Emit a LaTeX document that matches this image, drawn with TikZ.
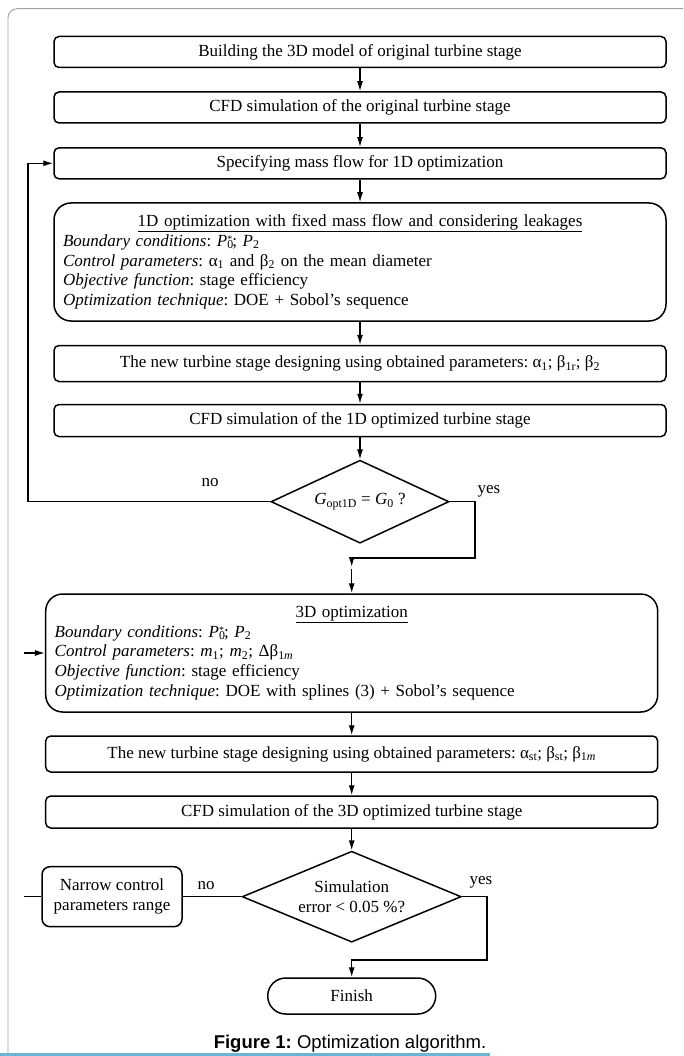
\documentclass[tikz,border=0pt]{standalone}
\usepackage{fontspec}
\setmainfont{Liberation Serif}
\newfontfamily\capfont{Liberation Sans}
\usetikzlibrary{arrows.meta,shapes.geometric}
\newcommand{\mysub}[1]{\textsubscript{#1}}
\newcommand{\Pzs}{\textit{P}\rlap{\textsubscript{0}}\raisebox{3.5pt}{\fontsize{10}{10}\selectfont *}}
\definecolor{framegray}{RGB}{160,160,160}
\definecolor{blueline}{RGB}{110,180,210}
\frenchspacing
\begin{document}
\begin{tikzpicture}[x=1pt,y=-1pt,
  txt/.style={font=\fontsize{17}{19.8}\selectfont},
  pbox/.style={txt, draw=black, line width=1.5pt, rounded corners=5pt, minimum width=612pt, inner sep=0pt},
  bigbox/.style={pbox, rounded corners=17pt, inner xsep=9pt, text width=594pt, align=left, minimum height=118pt},
  dec/.style={txt, draw=black, line width=1.5pt, diamond, inner sep=0pt, align=center},
  conn/.style={line width=1.3pt, -{Latex[length=10pt,width=6pt]}},
  plain/.style={line width=1.3pt},
  lbl/.style={txt}
]
\useasboundingbox (0,0) rectangle (683,1056);
% page frame
\draw[framegray, line width=0.9pt, rounded corners=9pt] (8,1056) -- (8,8.7) -- (683,8.7);
\fill[blueline] (0,1053) rectangle (490,1056);

% upper flow
\node[pbox, minimum height=31pt] (b1) at (360,52) {Building the 3D model of original turbine stage};
\node[pbox, minimum height=31pt] (b2) at (360,107.5) {CFD simulation of the original turbine stage};
\node[pbox, minimum height=31pt] (b3) at (360,163.3) {Specifying mass flow for 1D optimization};
\node[bigbox] (b4) at (360,262) {\makebox[\linewidth]{\underline{1D optimization with fixed mass flow and considering leakages}}\\
\textit{Boundary conditions}: \Pzs; \textit{P}\mysub{2}\\
\textit{Control parameters}: α\mysub{1} and β\mysub{2} on the mean diameter\\
\textit{Objective function}: stage efficiency\\
\textit{Optimization technique}: DOE + Sobol’s sequence};
\node[pbox, minimum height=36pt] (b5) at (360,363.5) {The new turbine stage designing using obtained parameters: α\mysub{1}; β\mysub{1r}; β\mysub{2}};
\node[pbox, minimum height=32pt] (b6) at (360,420.5) {CFD simulation of the 1D optimized turbine stage};
\node[dec, minimum width=178pt, minimum height=83pt, aspect=2.15] (d1) at (360,501.7) {\textit{G}\mysub{opt1D} = \textit{G}\mysub{0} ?};

% lower flow
\node[bigbox] (b7) at (351.7,653) {\makebox[\linewidth]{\underline{3D optimization}}\\
\textit{Boundary conditions}: \Pzs; \textit{P}\mysub{2}\\
\textit{Control parameters}: \textit{m}\mysub{1}; \textit{m}\mysub{2}; Δβ\mysub{1\textit{m}}\\
\textit{Objective function}: stage efficiency\\
\textit{Optimization technique}: DOE with splines (3) + Sobol’s sequence};
\node[pbox, minimum height=36pt] (b8) at (351.7,754) {The new turbine stage designing using obtained parameters: α\mysub{st}; β\mysub{st}; β\mysub{1\textit{m}}};
\node[pbox, minimum height=32pt] (b9) at (351.7,812) {CFD simulation of the 3D optimized turbine stage};
\node[dec, minimum width=219pt, minimum height=91pt, aspect=2.4] (d2) at (351.7,896.7) {Simulation\\error < 0.05 \%?};
\node[txt, draw=black, line width=1.5pt, rounded corners=8pt, minimum width=140pt, minimum height=60pt, inner sep=0pt, align=center] (nar) at (112,896.7) {Narrow control\\parameters range};
\node[txt, draw=black, line width=1.5pt, rounded corners=18pt, minimum width=168pt, minimum height=36pt, inner sep=0pt] (fin) at (351.7,996) {Finish};

% labels
\node[lbl] (no1) at (210,483) {no};
\node[lbl] (yes1) at (489,491) {yes};
\node[lbl] (no2) at (206,886) {no};
\node[lbl] (yes2) at (481,882) {yes};
\node[font=\capfont\fontsize{18.5}{21}\selectfont] (cap) at (350,1044) {\textbf{Figure 1:} Optimization algorithm.};

% coordinates
\coordinate (lpA) at (28,501.7);
\coordinate (lpB) at (28,163.3);
\coordinate (y1a) at (475,501.7);
\coordinate (y1b) at (475,558);
\coordinate (y1c) at (351.7,558);
\coordinate (y1d) at (351.7,567);
\coordinate (y1e) at (351.7,569);
\coordinate (stubA) at (24,896.7);
\coordinate (stubB) at (24,653);
\coordinate (y2a) at (487,896.7);
\coordinate (y2b) at (487,960);
\coordinate (y2c) at (351.7,960);

% connectors
\draw[conn] (b1) -- (b2);
\draw[conn] (b2) -- (b3);
\draw[conn] (b3) -- (b4);
\draw[conn] (b4) -- (b5);
\draw[conn] (b5) -- (b6);
\draw[conn] (b6) -- (d1);
\draw[conn] (d1.west) -- (lpA) -- (lpB) -- (b3.west);
\draw[conn] (d1.east) -- (y1a) -- (y1b) -- (y1c) -- (y1d);
\draw[conn] (y1e) -- (b7.north);
\draw[conn] (b7) -- (b8);
\draw[conn] (b8) -- (b9);
\draw[conn] (b9) -- (d2);
\draw[plain] (d2.west) -- (nar.east);
\draw[plain] (nar.west) -- (stubA);
\draw[conn] (stubB) -- (b7.west);
\draw[conn] (d2.east) -- (y2a) -- (y2b) -- (y2c) -- (fin.north);
\end{tikzpicture}
\end{document}
